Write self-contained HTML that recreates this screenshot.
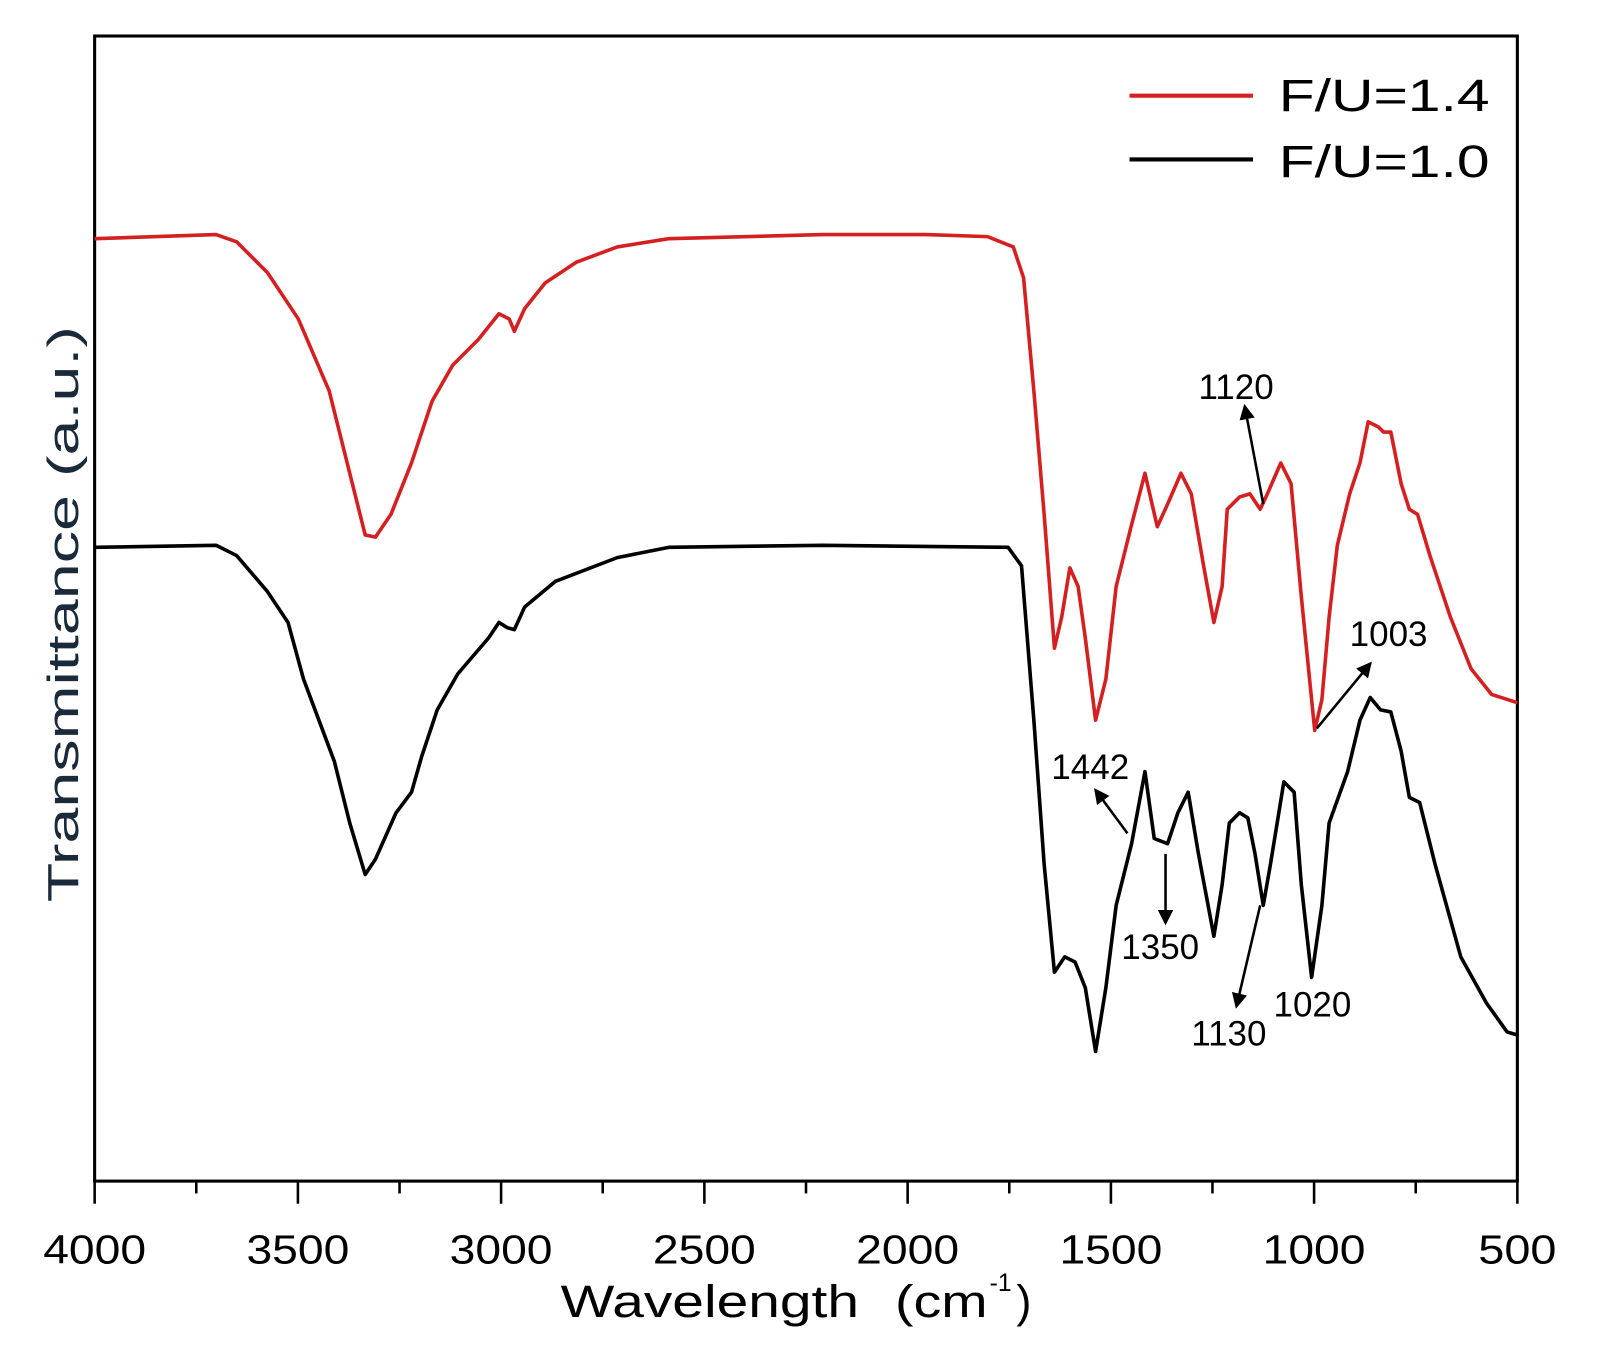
<!DOCTYPE html>
<html><head><meta charset="utf-8"><style>
html,body{margin:0;padding:0;background:#fff;}
svg{display:block;}
text{font-family:"Liberation Sans",sans-serif;}
</style></head><body>
<svg width="1612" height="1356" viewBox="0 0 1567 1318" preserveAspectRatio="none" xmlns="http://www.w3.org/2000/svg">
<defs><marker id="ah" markerWidth="6" markerHeight="6" refX="5" refY="3" orient="auto"><path d="M0,0 L6,3 L0,6 z" fill="#000"/></marker></defs>
<rect x="92" y="35" width="1383" height="1113" fill="none" stroke="#000" stroke-width="3"/>
<g stroke="#000" stroke-width="2.5">
<line x1="92" y1="1148" x2="92" y2="1170"/><line x1="190.8" y1="1148" x2="190.8" y2="1160"/>
<line x1="289.6" y1="1148" x2="289.6" y2="1170"/><line x1="388.4" y1="1148" x2="388.4" y2="1160"/>
<line x1="487.1" y1="1148" x2="487.1" y2="1170"/><line x1="585.9" y1="1148" x2="585.9" y2="1160"/>
<line x1="684.7" y1="1148" x2="684.7" y2="1170"/><line x1="783.5" y1="1148" x2="783.5" y2="1160"/>
<line x1="882.3" y1="1148" x2="882.3" y2="1170"/><line x1="981.1" y1="1148" x2="981.1" y2="1160"/>
<line x1="1079.9" y1="1148" x2="1079.9" y2="1170"/><line x1="1178.6" y1="1148" x2="1178.6" y2="1160"/>
<line x1="1277.4" y1="1148" x2="1277.4" y2="1170"/><line x1="1376.2" y1="1148" x2="1376.2" y2="1160"/>
<line x1="1475" y1="1148" x2="1475" y2="1170"/>
</g>
<g font-size="40" text-anchor="middle" fill="#000">
<text x="92" y="1228" textLength="100" lengthAdjust="spacingAndGlyphs">4000</text>
<text x="289.6" y="1228" textLength="100" lengthAdjust="spacingAndGlyphs">3500</text>
<text x="487.1" y="1228" textLength="100" lengthAdjust="spacingAndGlyphs">3000</text>
<text x="684.7" y="1228" textLength="100" lengthAdjust="spacingAndGlyphs">2500</text>
<text x="882.3" y="1228" textLength="100" lengthAdjust="spacingAndGlyphs">2000</text>
<text x="1079.9" y="1228" textLength="100" lengthAdjust="spacingAndGlyphs">1500</text>
<text x="1277.4" y="1228" textLength="100" lengthAdjust="spacingAndGlyphs">1000</text>
<text x="1475" y="1228" textLength="76" lengthAdjust="spacingAndGlyphs">500</text>
</g>
<text x="545" y="1280" font-size="44" textLength="290" lengthAdjust="spacingAndGlyphs">Wavelength</text>
<text x="870" y="1280" font-size="44" textLength="90" lengthAdjust="spacingAndGlyphs">(cm</text>
<text x="962" y="1255" font-size="24">-1</text>
<text x="988" y="1280" font-size="44">)</text>
<text transform="translate(76,597) rotate(-90)" font-size="42" text-anchor="middle" fill="#1a2a3a" textLength="560" lengthAdjust="spacingAndGlyphs">Transmittance (a.u.)</text>
<line x1="1098" y1="93" x2="1218" y2="93" stroke="#d42020" stroke-width="4"/>
<line x1="1098" y1="155" x2="1218" y2="155" stroke="#000" stroke-width="4"/>
<text x="1243" y="108" font-size="44" textLength="205" lengthAdjust="spacingAndGlyphs">F/U=1.4</text>
<text x="1243" y="172" font-size="44" textLength="205" lengthAdjust="spacingAndGlyphs">F/U=1.0</text>
<polyline fill="none" stroke="#d42020" stroke-width="3.5" stroke-linejoin="round" points="92,232 210,228 230,235 260,265 290,310 320,380 340,460 355,520 365,522 380,500 400,450 420,390 440,355 465,330 485,305 495,310 500,322 510,300 530,275 560,255 600,240 650,232 800,228 900,228 960,230 985,240 995,270 1005,380 1015,500 1025,630 1032,600 1040,552 1048,570 1055,620 1065,700 1075,660 1085,570 1100,510 1113,460 1125,512 1135,490 1148,460 1158,480 1170,550 1180,605 1188,570 1193,495 1205,483 1215,480 1225,495 1232,480 1245,450 1255,470 1265,580 1278,710 1285,680 1292,600 1300,530 1312,480 1322,450 1330,410 1340,415 1345,420 1352,420 1362,470 1370,495 1378,500 1390,540 1410,600 1430,650 1450,675 1475,683"/>
<polyline fill="none" stroke="#000" stroke-width="3.5" stroke-linejoin="round" points="92,532 210,530 230,540 260,575 280,605 295,660 310,700 325,740 340,800 355,850 365,835 385,790 400,770 410,735 425,690 445,655 475,620 485,605 493,610 500,612 510,590 540,565 600,542 650,532 800,530 980,532 993,550 1005,700 1015,840 1025,945 1035,930 1045,935 1055,960 1065,1022 1075,960 1085,880 1100,820 1113,750 1122,815 1135,820 1145,790 1155,770 1165,830 1180,910 1188,860 1195,800 1205,790 1213,795 1220,830 1228,880 1235,840 1248,760 1258,770 1265,860 1275,950 1285,880 1292,800 1310,750 1322,700 1332,678 1342,690 1352,692 1362,730 1370,775 1380,780 1395,840 1420,930 1445,975 1465,1003 1475,1006"/>
<g stroke="#000" stroke-width="2.5" marker-end="url(#ah)">
<line x1="1228" y1="490" x2="1210" y2="395"/>
<line x1="1280" y1="708" x2="1332" y2="645"/>
<line x1="1096" y1="810" x2="1065" y2="768"/>
<line x1="1133" y1="830" x2="1133" y2="897"/>
<line x1="1225" y1="880" x2="1202" y2="978"/>
</g>
<g font-size="34" fill="#000">
<text x="1165" y="388">1120</text>
<text x="1312" y="628">1003</text>
<text x="1022" y="757">1442</text>
<text x="1090" y="932">1350</text>
<text x="1158" y="1016">1130</text>
<text x="1238" y="988">1020</text>
</g>
</svg>
</body></html>
